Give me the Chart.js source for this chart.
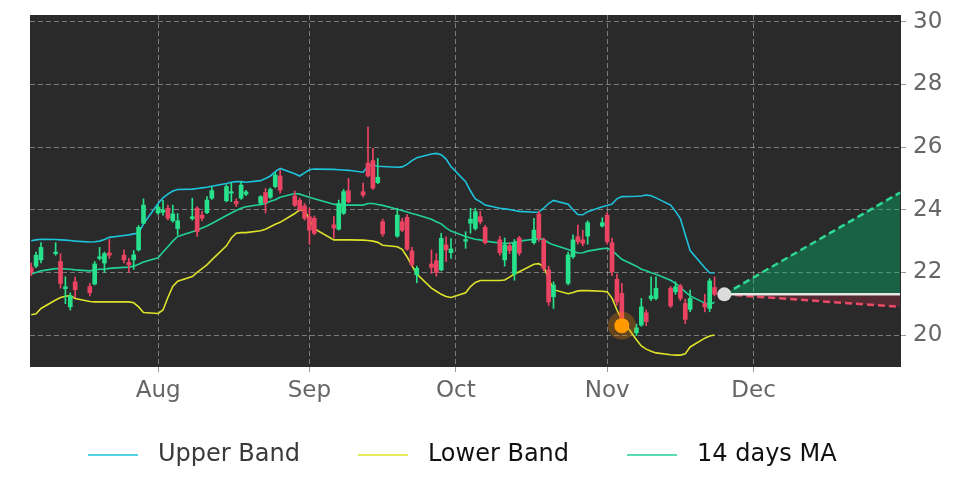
<!DOCTYPE html>
<html>
<head>
<meta charset="utf-8">
<title>Bollinger Bands</title>
<script src="https://cdn.jsdelivr.net/npm/chart.js@4.4.1/dist/chart.umd.min.js"></script>
<style>
  html, body { margin: 0; padding: 0; background: #fff; }
  #wrap { width: 972px; height: 486px; }
</style>
</head>
<body>
<div id="wrap"><canvas id="bbChart"></canvas></div>
<script>
// ===== DATA =====
const dates = [
  '2022-07-06','2022-07-07','2022-07-08','2022-07-11','2022-07-12','2022-07-13','2022-07-14','2022-07-15','2022-07-18','2022-07-19',
  '2022-07-20','2022-07-21','2022-07-22','2022-07-25','2022-07-26','2022-07-27','2022-07-28','2022-07-29',
  '2022-08-01','2022-08-02','2022-08-03','2022-08-04','2022-08-05','2022-08-08','2022-08-09','2022-08-10','2022-08-11','2022-08-12',
  '2022-08-15','2022-08-16','2022-08-17','2022-08-18','2022-08-19','2022-08-22','2022-08-23','2022-08-24','2022-08-25','2022-08-26',
  '2022-08-29','2022-08-30','2022-08-31',
  '2022-09-01','2022-09-02','2022-09-06','2022-09-07','2022-09-08','2022-09-09','2022-09-12','2022-09-13','2022-09-14','2022-09-15',
  '2022-09-16','2022-09-19','2022-09-20','2022-09-21','2022-09-22','2022-09-23','2022-09-26','2022-09-27','2022-09-28','2022-09-29',
  '2022-09-30',
  '2022-10-03','2022-10-04','2022-10-05','2022-10-06','2022-10-07','2022-10-10','2022-10-11','2022-10-12','2022-10-13','2022-10-14',
  '2022-10-17','2022-10-18','2022-10-19','2022-10-20','2022-10-21','2022-10-24','2022-10-25','2022-10-26','2022-10-27','2022-10-28',
  '2022-10-31',
  '2022-11-01','2022-11-02','2022-11-03','2022-11-04','2022-11-07','2022-11-08','2022-11-09','2022-11-10','2022-11-11','2022-11-14',
  '2022-11-15','2022-11-16','2022-11-17','2022-11-18','2022-11-21','2022-11-22','2022-11-23'
];

const opens = [
  22.15,22.2,22.4,22.6,22.35,21.48,20.9,21.7,21.55,21.63,22.45,22.3,22.62,22.55,22.32,22.4,22.72,23.57,
  23.9,23.92,24.05,23.65,23.4,23.72,24.05,23.83,23.91,24.37,24.29,24.53,24.27,24.37,24.5,24.21,24.55,24.4,24.74,25.08,24.44,24.3,24.12,
  23.78,23.73,23.52,23.38,23.89,24.61,24.58,25.49,25.57,24.87,23.62,23.16,23.62,23.76,22.69,21.92,22.27,22.37,22.08,22.88,22.63,
  23.0,23.57,23.4,23.78,23.44,23.04,22.4,22.85,21.95,23.1,22.95,23.87,23.04,22.08,21.22,21.65,22.5,23.14,23.04,23.16,23.48,
  23.83,22.95,21.78,21.33,20.07,20.32,20.71,21.16,21.17,21.49,21.38,21.57,21.01,20.82,21.01,20.85,21.52
];
const closes = [
  22.0,22.55,22.8,22.65,21.65,21.54,21.25,21.45,21.35,22.27,22.5,22.6,22.55,22.4,22.24,22.56,23.44,24.15,
  24.08,24.0,23.73,23.87,23.65,23.78,23.3,23.73,24.31,24.61,24.74,24.58,24.19,24.79,24.57,24.42,24.23,24.65,25.11,24.63,24.15,24.0,23.73,
  23.35,23.25,23.42,24.2,24.58,24.26,24.47,25.08,24.69,25.04,23.23,23.83,23.35,22.74,22.24,22.13,22.16,22.0,23.09,22.72,22.75,
  23.05,23.7,23.94,23.62,22.95,22.63,22.88,22.7,22.95,22.62,23.35,23.09,22.13,21.06,21.6,22.56,23.04,22.98,22.93,23.59,23.59,
  22.98,22.02,21.06,20.4,20.23,20.9,20.43,21.25,21.49,20.93,21.54,21.17,20.5,21.17,20.9,21.73,21.3
];
const highs = [
  22.3,22.65,22.95,22.95,22.6,21.86,21.35,21.85,21.65,22.35,22.8,22.65,23.05,22.72,22.45,22.7,23.5,24.35,
  24.15,24.3,24.15,24.15,23.88,24.37,24.1,23.95,24.42,24.72,24.8,24.85,24.35,24.9,24.62,24.45,24.68,24.7,25.2,25.27,24.6,24.37,24.2,
  24.05,23.8,23.78,24.31,24.65,25.0,24.85,26.64,25.96,25.64,23.7,24.05,23.73,23.85,22.8,22.2,22.72,22.6,23.25,23.14,23.08,
  23.3,24.05,24.05,23.95,23.5,23.15,23.1,22.95,23.05,23.15,23.73,23.95,23.1,22.2,21.7,22.65,23.2,23.51,23.35,23.65,23.75,
  23.91,23.1,21.95,21.65,20.35,21.17,20.8,21.86,21.86,21.55,21.7,21.62,21.15,21.44,21.3,21.8,21.86
];
const lows = [
  21.9,22.15,22.3,22.55,21.5,21.0,20.8,21.2,21.25,21.6,22.4,22.0,22.45,22.3,22.0,22.1,22.68,23.55,
  23.85,23.83,23.68,23.6,23.2,23.67,23.15,23.65,23.88,24.33,24.25,24.26,24.1,24.33,24.45,24.15,23.9,24.35,24.7,24.53,24.1,23.95,23.67,
  22.9,23.2,23.1,23.35,23.85,24.22,24.4,25.05,24.65,24.83,23.15,23.12,23.3,22.7,22.2,21.67,21.97,21.88,22.05,22.34,22.45,
  22.77,23.25,23.35,23.55,22.9,22.55,22.2,22.6,21.75,22.55,22.9,23.0,22.05,20.95,20.85,21.6,22.45,22.9,22.85,22.9,23.45,
  22.9,21.9,20.95,20.1,19.98,20.28,20.3,21.1,21.12,20.88,21.3,21.1,20.37,20.75,20.74,20.75,21.25
];

const upperBand = [
  23.01,23.04,23.06,23.05,23.04,23.03,23.02,23.0,22.97,22.98,23.0,23.05,23.12,23.18,23.2,23.23,23.26,23.55,
  24.2,24.38,24.5,24.6,24.65,24.66,24.68,24.7,24.72,24.75,24.84,24.88,24.9,24.9,24.88,24.93,25.0,25.08,25.22,25.32,25.15,25.08,25.18,
  25.28,25.3,25.29,25.28,25.27,25.26,25.2,25.4,25.43,25.39,25.38,25.36,25.37,25.45,25.57,25.66,25.78,25.8,25.76,25.62,25.38,
  24.9,24.6,24.35,24.26,24.15,24.05,24.03,24.01,23.98,23.95,23.92,23.93,24.05,24.2,24.3,24.18,24.0,23.85,23.84,23.94,24.1,
  24.14,24.18,24.35,24.42,24.43,24.44,24.47,24.45,24.38,24.15,23.95,23.72,23.2,22.7,22.15,21.99,21.98
];
const lowerBand = [
  20.65,20.68,20.85,21.12,21.2,21.24,21.26,21.17,21.07,21.06,21.06,21.06,21.06,21.06,21.06,21.03,20.9,20.72,
  20.69,20.8,21.2,21.55,21.72,21.87,22.0,22.12,22.24,22.4,22.85,23.1,23.25,23.27,23.27,23.33,23.38,23.46,23.54,23.6,23.88,24.0,23.98,
  23.7,23.4,23.04,23.04,23.04,23.04,23.03,23.02,23.0,22.96,22.87,22.82,22.74,22.5,22.22,21.95,21.5,21.4,21.3,21.23,21.2,
  21.35,21.55,21.68,21.74,21.74,21.74,21.76,21.85,21.95,22.02,22.26,22.28,22.18,21.8,21.45,21.32,21.36,21.41,21.42,21.42,21.4,
  21.38,21.18,20.8,20.5,19.85,19.65,19.55,19.48,19.43,19.37,19.36,19.36,19.4,19.62,19.9,19.97,20.0
];
const movingAvg = [
  21.95,22.0,22.05,22.12,22.12,22.11,22.1,22.08,22.05,22.08,22.1,22.1,22.13,22.16,22.17,22.2,22.26,22.33,
  22.47,22.65,22.82,23.0,23.15,23.3,23.35,23.42,23.48,23.56,23.82,23.9,23.98,24.05,24.1,24.17,24.2,24.27,24.32,24.4,24.52,24.5,24.45,
  24.4,24.35,24.18,24.15,24.15,24.15,24.15,24.2,24.2,24.17,24.14,24.02,23.98,23.93,23.88,23.84,23.7,23.62,23.55,23.42,23.32,
  23.15,23.1,23.06,23.04,23.0,22.94,22.93,22.93,22.96,23.0,23.06,23.08,23.05,22.95,22.88,22.73,22.68,22.62,22.63,22.68,22.76,
  22.77,22.7,22.56,22.42,22.2,22.1,22.05,21.99,21.94,21.75,21.65,21.52,21.38,21.25,21.02,20.97,21.05
];

const monthLabels = ['Aug', 'Sep', 'Oct', 'Nov', 'Dec'];
const monthStarts = ['2022-08-01', '2022-09-01', '2022-10-01', '2022-11-01', '2022-12-01'];
const yTicks = [20, 22, 24, 26, 28, 30];

const lowSignal = { date: '2022-11-04', value: 20.3 };
const lastPrice = { date: '2022-11-25', value: 21.3 };
const forecastEnd = '2022-12-31';
const forecastHigh = 24.55;
const forecastLow = 20.9;

// ===== HELPERS =====
const ORIGIN = Date.UTC(2022, 6, 1);
function dayNum(s) {
  const [y, m, d] = s.split('-').map(Number);
  return (Date.UTC(y, m - 1, d) - ORIGIN) / 86400000;
}

const UP = '#27e18d', DOWN = '#ea4462';
const xs = dates.map(dayNum);
const candleColors = xs.map((x, i) => closes[i] >= opens[i] ? UP : DOWN);
const series = arr => xs.map((x, i) => ({ x: x, y: arr[i] }));

// legend handle: blank space + short line, drawn into a small canvas
const legendCache = {};
function legendLine(color) {
  if (legendCache[color]) return legendCache[color];
  const c = document.createElement('canvas');
  c.width = 110; c.height = 4;
  const g = c.getContext('2d');
  g.strokeStyle = color; g.lineWidth = 1.6;
  g.beginPath(); g.moveTo(52, 2); g.lineTo(102, 2); g.stroke();
  legendCache[color] = c;
  return c;
}

const plotBackground = {
  id: 'plotBackground',
  beforeDraw(chart) {
    const { ctx, chartArea: a } = chart;
    ctx.save();
    ctx.fillStyle = '#2a2a2a';
    ctx.fillRect(a.left, a.top, a.width, a.height);
    ctx.restore();
  }
};

Chart.defaults.font.family = "'DejaVu Sans', sans-serif";

const t0 = dayNum(lastPrice.date), t1 = dayNum(forecastEnd);

new Chart(document.getElementById('bbChart'), {
  type: 'bar',
  data: {
    datasets: [
      { label: 'Upper Band', type: 'line', data: series(upperBand), borderColor: '#1ec3dc', borderWidth: 1.6, pointRadius: 0, order: 5 },
      { label: 'Lower Band', type: 'line', data: series(lowerBand), borderColor: '#dde32a', borderWidth: 1.6, pointRadius: 0, order: 5 },
      { label: '14 days MA', type: 'line', data: series(movingAvg), borderColor: '#22d09c', borderWidth: 1.6, pointRadius: 0, order: 5 },
      { label: 'low', type: 'line', showLine: false, data: [{ x: dayNum(lowSignal.date), y: lowSignal.value }],
        pointRadius: 7.5, backgroundColor: '#ff9a00', borderWidth: 0, order: 0 },
      { label: 'lowHalo', type: 'line', showLine: false, data: [{ x: dayNum(lowSignal.date), y: lowSignal.value }],
        pointRadius: 14, backgroundColor: 'rgba(255,140,0,0.28)', borderWidth: 0, order: 1 },
      { label: 'last', type: 'line', showLine: false, data: [{ x: t0, y: lastPrice.value }],
        pointRadius: 7, backgroundColor: '#dcdcdc', borderWidth: 0, order: 0 },
      { label: 'flat', type: 'line', data: [{ x: t0, y: lastPrice.value }, { x: t1, y: lastPrice.value }],
        borderColor: '#e6e6e6', borderWidth: 2.5, pointRadius: 0, order: 2 },
      { label: 'up', type: 'line', data: [{ x: t0, y: lastPrice.value }, { x: t1, y: forecastHigh }],
        borderColor: '#2fd893', borderWidth: 2.5, borderDash: [7, 4], pointRadius: 0, order: 2,
        fill: { target: 6, above: 'rgba(0,200,120,0.36)', below: 'rgba(0,200,120,0.36)' } },
      { label: 'down', type: 'line', data: [{ x: t0, y: lastPrice.value }, { x: t1, y: forecastLow }],
        borderColor: '#ea4a66', borderWidth: 2.5, borderDash: [7, 4], pointRadius: 0, order: 2,
        fill: { target: 6, above: 'rgba(230,40,80,0.22)', below: 'rgba(230,40,80,0.22)' } },
      { label: 'body', data: xs.map((x, i) => ({ x: x, y: [opens[i], closes[i]] })), backgroundColor: candleColors,
        barThickness: 4, minBarLength: 1, grouped: false, order: 3 },
      { label: 'wick', data: xs.map((x, i) => ({ x: x, y: [lows[i], highs[i]] })), backgroundColor: candleColors,
        barThickness: 1, grouped: false, order: 4 }
    ]
  },
  options: {
    responsive: true, maintainAspectRatio: false, animation: false,
    layout: { padding: { left: 30, top: 15, right: 0, bottom: 9 } },
    plugins: {
      tooltip: { enabled: false },
      legend: {
        position: 'bottom', fullSize: false, align: 'start',
        labels: {
          font: { size: 24 }, color: '#111', padding: 6,
          usePointStyle: true, pointStyleWidth: 110, boxHeight: 24,
          filter: item => item.datasetIndex < 3,
          sort: (a, b) => a.datasetIndex - b.datasetIndex,
          generateLabels: chart => Chart.defaults.plugins.legend.labels.generateLabels(chart).map(item => {
            const ds = chart.data.datasets[item.datasetIndex];
            item.pointStyle = legendLine(ds.borderColor);
            item.fontColor = item.datasetIndex === 0 ? '#3a3a3a' : '#111';
            return item;
          })
        }
      }
    },
    scales: {
      x: {
        type: 'linear', min: 4.75, max: 183.2, offset: false,
        grid: { color: 'rgba(190,190,190,0.55)', lineWidth: 1, tickLength: 5, tickColor: '#9a9a9a', tickBorderDash: [], offset: false },
        border: { display: false, dash: [5, 3] },
        afterBuildTicks: s => { s.ticks = monthStarts.map(d => ({ value: dayNum(d) })); },
        afterFit: s => { s.height = 70; s.paddingLeft = 0; s.paddingRight = 0; },
        ticks: {
          color: '#666', font: { size: 23 }, padding: 5, maxRotation: 0, autoSkip: false,
          callback: v => monthLabels[monthStarts.findIndex(d => dayNum(d) === v)]
        }
      },
      y: {
        type: 'linear', position: 'right', min: 18.98, max: 30.22,
        grid: { color: 'rgba(190,190,190,0.55)', lineWidth: 1, tickLength: 5, tickColor: '#9a9a9a', tickBorderDash: [] },
        border: { display: false, dash: [5, 3] },
        afterBuildTicks: s => { s.ticks = yTicks.map(v => ({ value: v })); },
        afterFit: s => { s.width = 71; s.paddingTop = 0; s.paddingBottom = 0; },
        ticks: { color: '#666', font: { size: 23 }, padding: 7 }
      }
    }
  },
  plugins: [plotBackground]
});
</script>
</body>
</html>
